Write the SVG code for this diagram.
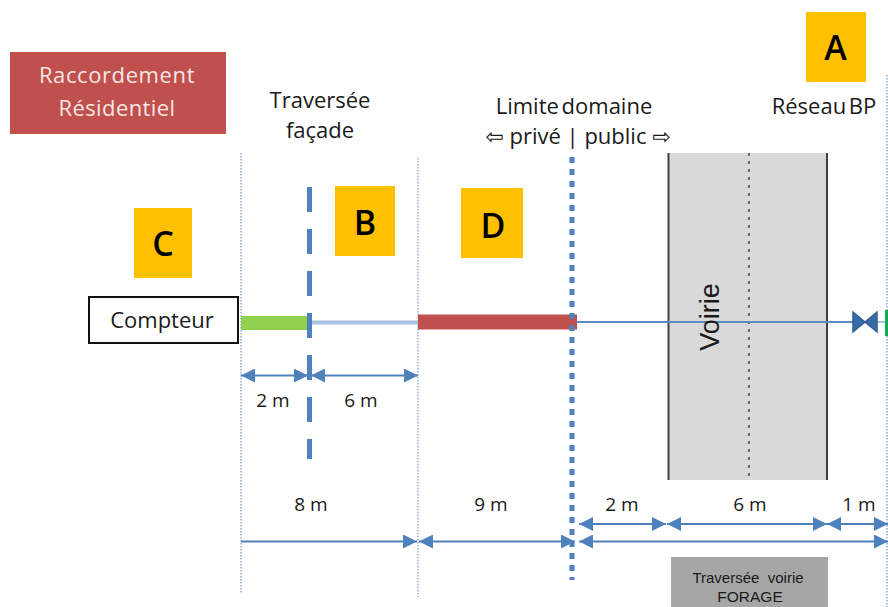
<svg xmlns="http://www.w3.org/2000/svg" width="888" height="607" viewBox="0 0 888 607">
<style>
text{font-family:"Open Sans","DejaVu Sans",sans-serif;fill:#1a1a1a;text-anchor:middle}
.t{font-size:22px}
.d{font-size:19px}
.l{font-size:34px;font-weight:600;fill:#000;font-family:"Open Sans",sans-serif}
.k{fill:#FFC000}
.dim{stroke:#4F81BD;stroke-width:2;fill:none}
.thin{stroke:#7FA3CF;stroke-width:1.3;stroke-dasharray:1.5 1.5;fill:none}
</style>
<defs>
<marker id="e" markerUnits="userSpaceOnUse" markerWidth="15" markerHeight="15" refX="14" refY="7" orient="auto"><path d="M0 0L14 7L0 14Z" fill="#4F81BD"/></marker>
<marker id="s" markerUnits="userSpaceOnUse" markerWidth="15" markerHeight="15" refX="0" refY="7" orient="auto"><path d="M14 0L0 7L14 14Z" fill="#4F81BD"/></marker>
</defs>
<rect width="888" height="607" fill="#fff"/>
<g id="titre"><rect x="10" y="52" width="216" height="82" fill="#C0504D"/>
<text x="117" y="83" class="t" style="fill:#f7e6e5;letter-spacing:.6px">Raccordement</text><text x="117" y="116" class="t" style="fill:#f7e6e5;letter-spacing:.4px">Résidentiel</text></g>
<g id="voirie"><rect x="668" y="153" width="159" height="327" fill="#D9D9D9"/>
<path d="M668.5 153V480M827 153V480" stroke="#404040" stroke-width="2" fill="none"/>
<path d="M749 153V480" stroke="#6b6b6b" stroke-width="2" stroke-dasharray="3 5" fill="none"/></g>
<g id="connecteurs">
<path class="thin" d="M241 153V593M418 158V597M887 75V607"/>
<path d="M309.500 187V459" stroke="#4F81BD" stroke-width="5" stroke-dasharray="25 17" fill="none"/>
<path d="M241 323H307" stroke="#92D050" stroke-width="14"/>
<path d="M312 322.500H418" stroke="#A9C2E2" stroke-width="4"/>
<path d="M418 322H577" stroke="#C0504D" stroke-width="15"/>
<path d="M572 157V580" stroke="#4F81BD" stroke-width="5" stroke-dasharray="6 6" fill="none"/>
<path d="M577 322H854" stroke="#5D8BC2" stroke-width="2"/>
<path d="M860 322H885" stroke="#A9C2E2" stroke-width="2"/>
<path class="dim" d="M241 375.500H308" marker-start="url(#s)" marker-end="url(#e)"/>
<path class="dim" d="M311 375.500H418" marker-start="url(#s)" marker-end="url(#e)"/>
<path class="dim" d="M241 541.500H417" marker-end="url(#e)"/>
<path class="dim" d="M419 541.500H575" marker-start="url(#s)" marker-end="url(#e)"/>
<path class="dim" d="M579 524H666" marker-start="url(#s)" marker-end="url(#e)"/>
<path class="dim" d="M667 524H827" marker-start="url(#s)" marker-end="url(#e)"/>
<path class="dim" d="M827 524H888" marker-start="url(#s)" marker-end="url(#e)"/>
<path class="dim" d="M579 541.500H888" marker-start="url(#s)" marker-end="url(#e)"/>
</g>
<g id="vanne"><path d="M853 312L865 322L877 312V332L865 322L853 332Z" fill="#376CA8" stroke="#2F5F96" stroke-width="1.500"/><rect x="885" y="310" width="3" height="26" fill="#00B050"/></g>
<g id="compteur"><rect x="89" y="297" width="149" height="46" fill="#fff" stroke="#111" stroke-width="2"/><text x="162" y="328" class="t">Compteur</text></g>
<g id="A"><rect x="806" y="12" width="60" height="70" class="k"/><text x="835.500" y="60" class="l">A</text></g>
<g id="B"><rect x="335" y="186" width="60" height="70" class="k"/><text x="365" y="235" class="l">B</text></g>
<g id="C"><rect x="134" y="208" width="58" height="70" class="k"/><text x="163" y="256" class="l">C</text></g>
<g id="D"><rect x="461" y="188" width="62" height="70" class="k"/><text x="493" y="238" class="l">D</text></g>
<g id="labels">
<text transform="translate(719,317) rotate(-90)" style="font-size:27px;font-family:'Liberation Sans',sans-serif">Voirie</text>
<text x="320" y="108" class="t">Traversée</text><text x="320" y="138" class="t">façade</text>
<text x="574" y="114" class="t" style="word-spacing:-3px">Limite domaine</text><text x="578" y="144" class="t">⇦ privé | public ⇨</text>
<text x="824" y="114" class="t" style="word-spacing:-3px">Réseau BP</text>
<text x="273" y="407" class="d">2 m</text><text x="361" y="407" class="d">6 m</text>
<text x="311" y="511" class="d">8 m</text><text x="491" y="511" class="d">9 m</text>
<text x="622" y="511" class="d">2 m</text><text x="750" y="511" class="d">6 m</text><text x="859" y="511" class="d">1 m</text>
</g>
<g id="forage"><rect x="671" y="557" width="157" height="50" fill="#A6A6A6"/>
<text x="748" y="583" style="font-size:15px;font-family:'Liberation Sans',sans-serif" xml:space="preserve">Traversée  voirie</text>
<text x="750" y="602" style="font-size:15.500px;font-family:'Liberation Sans',sans-serif">FORAGE</text></g>
</svg>
